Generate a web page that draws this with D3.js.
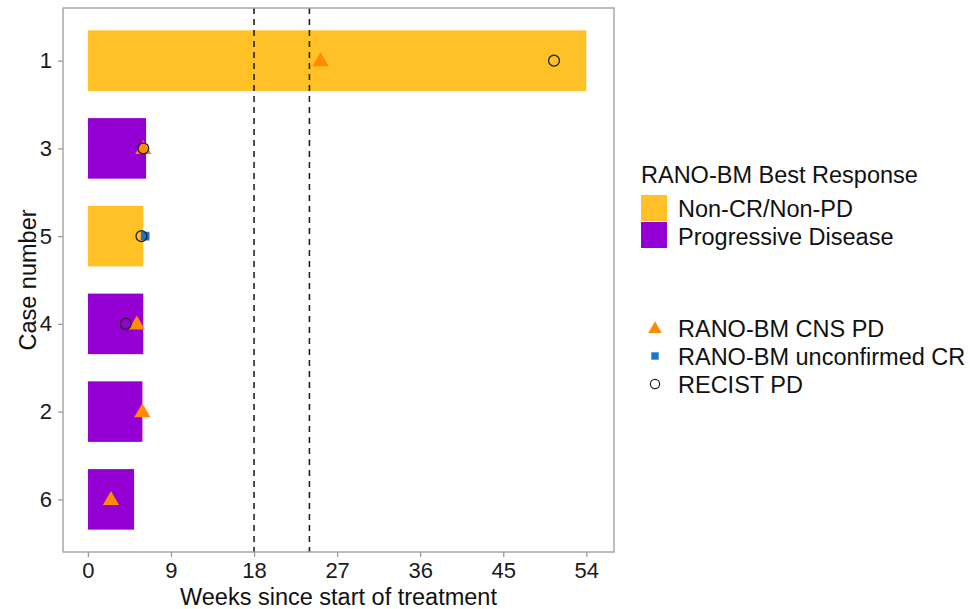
<!DOCTYPE html>
<html><head><meta charset="utf-8">
<script src="https://cdn.jsdelivr.net/npm/d3@7"></script>
<style>body{margin:0;background:#fff}svg text{font-family:"Liberation Sans",Arial,sans-serif}</style>
</head><body>
<svg id="chart" width="970" height="609"></svg>
<script>
// Swimmer plot: treatment duration per case with response events
const cases = ["1", "3", "5", "4", "2", "6"];
const weeks = [54, 6.3, 6.0, 6.0, 5.9, 5.0];
const bestResponse = ["Non-CR/Non-PD", "Progressive Disease", "Non-CR/Non-PD", "Progressive Disease", "Progressive Disease", "Progressive Disease"];
const responseLevels = ["Non-CR/Non-PD", "Progressive Disease"];
const responseColors = ["#FFC125", "#9400D3"];

const cnsCase = ["1", "3", "4", "2", "6"];
const cnsWeek = [25.2, 6.0, 5.3, 5.9, 2.5];
const ucrCase = ["5"];
const ucrWeek = [6.2];
const recistCase = ["1", "3", "5", "4"];
const recistWeek = [50.5, 6.0, 5.8, 4.1];

const refLines = [18, 24];
const xTicks = [0, 9, 18, 27, 36, 45, 54];

const svg = d3.select("#chart");
const panel = {left: 63, right: 614, top: 8, bottom: 552};
const FS = "23.5px";

const x = d3.scaleLinear().domain([-2.7, 57.0]).range([panel.left, panel.right]);
const y = d3.scalePoint().domain(cases).range([panel.top, panel.bottom]).padding(0.6);
const barH = y.step() * 0.69;
const colour = d3.scaleOrdinal().domain(responseLevels).range(responseColors);

// Bars
svg.append("g").selectAll("rect").data(cases).join("rect")
  .attr("x", x(0))
  .attr("y", c => y(c) - barH / 2)
  .attr("width", (c, i) => x(weeks[i]) - x(0))
  .attr("height", barH)
  .attr("fill", (c, i) => colour(bestResponse[i]));

// Reference lines
svg.append("g").selectAll("line").data(refLines).join("line")
  .attr("x1", d => x(d)).attr("x2", d => x(d))
  .attr("y1", panel.top).attr("y2", panel.bottom)
  .attr("stroke", "#222").attr("stroke-width", 1.6).attr("stroke-dasharray", "6,5");

const tri = d3.symbol().type(d3.symbolTriangle).size(115);
const sq = d3.symbol().type(d3.symbolSquare).size(75);

// Event markers
svg.append("g").selectAll("path").data(cnsCase).join("path")
  .attr("d", tri)
  .attr("transform", (c, i) => `translate(${x(cnsWeek[i])},${y(c) + 1})`)
  .attr("fill", "#FF8C00");
svg.append("g").selectAll("path").data(ucrCase).join("path")
  .attr("d", sq)
  .attr("transform", (c, i) => `translate(${x(ucrWeek[i])},${y(c)})`)
  .attr("fill", "#1874CD");
svg.append("g").selectAll("circle").data(recistCase).join("circle")
  .attr("cx", (c, i) => x(recistWeek[i]))
  .attr("cy", c => y(c))
  .attr("r", 5.4)
  .attr("fill", "none").attr("stroke", "#222").attr("stroke-width", 1.3);

// Panel border
svg.append("rect")
  .attr("x", panel.left).attr("y", panel.top)
  .attr("width", panel.right - panel.left).attr("height", panel.bottom - panel.top)
  .attr("fill", "none").attr("stroke", "#9a9a9a").attr("stroke-width", 1.3);

// Axes
const xAxis = svg.append("g").attr("transform", `translate(0,${panel.bottom})`)
  .call(d3.axisBottom(x).tickValues(xTicks).tickSize(5).tickPadding(5));
const yAxis = svg.append("g").attr("transform", `translate(${panel.left},0)`)
  .call(d3.axisLeft(y).tickSize(5).tickPadding(6));
[xAxis, yAxis].forEach(a => {
  a.select(".domain").remove();
  a.selectAll(".tick line").attr("stroke", "#9a9a9a").attr("stroke-width", 1.3);
  a.selectAll(".tick text").attr("fill", "#1a1a1a").style("font-size", "22px");
});

svg.append("text").attr("x", (panel.left + panel.right) / 2).attr("y", 605)
  .attr("text-anchor", "middle").style("font-size", FS).attr("fill", "#111")
  .text("Weeks since start of treatment");
svg.append("text").attr("transform", `translate(36,${(panel.top + panel.bottom) / 2}) rotate(-90)`)
  .attr("text-anchor", "middle").style("font-size", FS).attr("fill", "#111")
  .text("Case number");

// Legend: best response fill
const lg = svg.append("g");
lg.append("text").attr("x", 641).attr("y", 183).style("font-size", FS).attr("fill", "#111")
  .text("RANO-BM Best Response");
responseLevels.forEach((lev, i) => {
  lg.append("rect").attr("x", 641).attr("y", 195 + i * 27).attr("width", 26).attr("height", 26)
    .attr("fill", colour(lev));
  lg.append("text").attr("x", 678).attr("y", 216.5 + i * 28.5).style("font-size", FS).attr("fill", "#111")
    .text(lev);
});

// Legend: event markers
const eventLabels = ["RANO-BM CNS PD", "RANO-BM unconfirmed CR", "RECIST PD"];
const ev = svg.append("g");
ev.append("path").attr("d", d3.symbol().type(d3.symbolTriangle).size(80))
  .attr("transform", "translate(655,329)").attr("fill", "#FF8C00");
ev.append("path").attr("d", d3.symbol().type(d3.symbolSquare).size(55))
  .attr("transform", "translate(655,356)").attr("fill", "#1874CD");
ev.append("circle").attr("cx", 655).attr("cy", 384).attr("r", 4.6)
  .attr("fill", "none").attr("stroke", "#222").attr("stroke-width", 1.2);
eventLabels.forEach((t, i) => {
  ev.append("text").attr("x", 678).attr("y", 337 + i * 28).style("font-size", FS).attr("fill", "#111").text(t);
});
</script>
</body></html>
